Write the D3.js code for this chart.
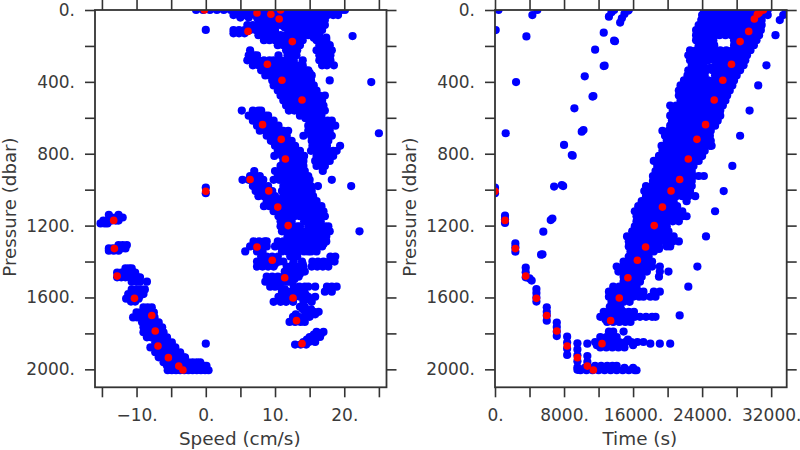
<!DOCTYPE html>
<html><head><meta charset="utf-8">
<script src="https://cdn.jsdelivr.net/npm/d3@7"></script>
<style>html,body{margin:0;background:#fff}svg{display:block}text{font-family:"DejaVu Sans",sans-serif;fill:#3a3a3a}</style>
</head><body><svg id="c" width="800" height="450"></svg>
<script>
// Each row: pressure, then the speeds read at that pressure
const speedUpper = [
[0,-1.4,-.4,.6,1.6,2.6,3.6,4.4,5.2,6,6.8,7.6,8.4,9.2,10,10.8,11.6,12.4,13.2,14,14.8,15.6,16.4,17.2,18,18.8,19.6,20.1],
[28,4,4.8,5.6,6.4,7.2,8,8.8,9.6,10.4,11.2,12,12.8,13.6,14.4,15.2,16,16.8,17.6,18.4,19.1],
[56,7.6,8.4,9.2,10,10.8,11.6,12.4,13.2,14,14.8,15.6,16.4,17.2],
[84,6,6.8,7.6,8.4,9.2,10,10.8,11.6,12.4,13.2,14,14.8,15.6,16.4,17.2],
[112,4,4.8,5.6,6.4,7.2,8,8.8,9.6,10,12.4,13,13.6,14.4,15.2,16,16.8],
[130,4,4.8,5.6],
[140,7.6,8.4,9.2,10,10.8,11.6,12.4,13.2,14,14.8,15.6,16.4],
[168,8.4,9.2,10,10.8,11.6,12.4,13.2,14,16,16.8,17.4],
[196,10.4,11.2,12,12.8,13.6,16.4,17.2,17.9],
[224,6.4,11.6,12.4,13.2,16,16.8,17.6,18.2],
[252,6.2,7,7.4,10.5,11.8,12.6,13.1,16.4,17.2,18],
[280,6,6.8,7.6,8.4,9.2,9.8,10.8,11.6,12.4,12.7,14,16.4,17.2,18],
[308,6.8,7.6,8.4,9.2,10,10.8,11.6,12.4,13.2,14,16.8,17.5,18.5],
[336,8,8.8,9.6,10.4,11.2,12,12.8,13.6,14.4,14.8],
[364,8.6,9.2,10,10.8,11.6,12.4,13.2,14,14.8,15.3],
[392,9.6,10.4,11.2,12,12.8,13.6,14.4,15.2,17.9],
[420,9.8,10.8,11.6,12.4,13.2,14,14.8,15.6],
[448,10.4,11.2,12,12.8,13.6,14.4,15.2,16],
[476,10.8,11.6,12.4,13.2,14,14.8,15.6,16.4,17.2],
[504,11.2,12,12.8,13.6,14.4,15.2,16,16.8],
[532,11.6,12.4,13.2,14,14.8,15.6,16.4,17],
[560,5.2,6.8,7.6,8,12,12.8,13.6,14.4,15.2,16,16.8,17.2],
[588,6.2,7,7.8,8.6,9,13.6,14.4,15.2,16,16.7],
[616,6.8,7.6,8.4,9.2,9.8,15.2,16,16.8,17.6,18.2],
[644,7.4,8.2,9,9.8,10.5,14.8,15.6,16.4,17.2,18,18.7],
[672,7.8,8.6,9.4,10.2,11,11.2,11.9,14.8,15.6,16.4,17.2,17.9],
[700,8.8,9.6,10.4,11.2,11.7,14.1,15.2,16,16.8,17.6,18.2],
[728,9.4,10.2,11,11.8,12.4,15.3,16.1,16.9,17.7],
[756,10,10.8,11.6,12.4,12.9,15.4,16.2,17,17.5,19.4],
[784,10.4,11.2,12,12.8,13.6,15.2,16,16.8,17.6,18.4,18.9],
[812,9.9,11,11.8,12.6,13.4,14.2,16,16.8,17.6,18.4],
[840,11.2,12,12.8,13.6,14.1,15.8,16.6,17.4,17.9],
[868,10.8,11.6,12.4,13.2,14.1,16,16.8,17.2],
[896,7,10,10.8,11.6,12.4,13.2,14,14.3,16.9],
[924,6.4,7.2,7.8,10.4,11.2,12,12.8,13.6,14.4,14.8],
[945,5.3,6.2,7,7.8,8.3,9.8,10.6,11.4,12.2,13,13.8,14.6,15,18.2],
[980,6.8,7.6,8.4,9,11.2,12,12.8,13.6,14.4,15.2,16.2,21],
[1008,7.2,8,8.8,9.6,11,11.8,12.6,13.4,14.2,15,15.3],
[1036,7.6,8.4,9.2,10,11.2,12,12.8,13.6,14.4,14.8,15.5]];
const speedMiddle = [
[1064,8.8,9.6,10.4,11.2,11.7,12.4,13.2,14,14.8,15.6,16],
[1092,8.4,9.2,10,10.8,11.6,12.2,12.9,13.7,14.5,15.3,16.1,16.7],
[1120,9.8,10.6,11.4,12.2,13,13.8,14.6,15.4,16.2,17],
[1148,10.5,11.2,12,12.8,13.6,14.4,15.2,16,16.8,17.2],
[1176,10.8,11.6,12.4,14.2,15,15.8,16.6],
[1204,10.8,11.6,12.4,13.2,13.6,14.8,15.6,16.4,17.2,17.7],
[1232,11,11.8,12.6,13.2,14,14.8,15.6,16.4,17.2,17.9,22.2],
[1260,11.8,12.6,13.4,14.2,15,15.8,16.6,17.4],
[1288,6.9,7.7,8.5,8.8,10.4,11.2,12,12.8,13.6,14.4,15.2,16,16.8,17.4],
[1316,6.4,7.2,8,8.8,10,10.8,11.6,12.4,13.2,14,14.8,15.3,16,16.8],
[1344,5.7,7.4,8.2,11,11.8,12.6,13.4,14.2,14.8,15.2,16],
[1372,8,8.8,9.6,10.4,12.2,13.2,18,18.7],
[1400,7.4,8.2,9,9.8,10.6,11.2,12.7,13.9,15.4,16.2,17,17.8,18.6],
[1428,7.4,8.2,9,9.8,11.7,12.5,13.3,14.1,15.3,16.1,16.9,17.7],
[1456,11.4,12.2,13,13.8,14.3],
[1484,8.8,9.6,10.4,11.2,12,12.8,13.4],
[1512,8.6,9.4,10.2,11,11.8,12.2],
[1540,9.3,10,10.7,12.7,13.5,14.3,14.8,15.8,17.5,18.2,18.9],
[1568,11,11.8,12.6,13.4,14.1,17.2,18.2],
[1596,10.5,11.3,12.1,12.9,13.6,14.8,15.8],
[1624,9.8,10.8,11.6,12.6,14.1,15.3],
[1652,13.6,14.3],
[1680,14.8,15.6,16.3],
[1708,12.6,13.4,14.2,15],
[1736,12.1,12.9,13.7,14.3],
[1792,16,17],
[1820,15,15.8,16.5],
[1848,14.1,14.9,15.8],
[1862,12.9,13.7,14.5]];
const speedLower = [
[1155,-13.6,-13,-12.4,-12],
[1172,-14.8,-14.2,-13.6,-13,-12.6],
[1188,-15.2,-14.6,-14.2],
[1308,-12.6,-12,-11.4],
[1327,-14,-13.4,-12.8,-12.2,-11.6],
[1340,-14,-13.3,-12.6],
[1438,-11.6,-11.1,-10.7],
[1462,-12.8,-12.2,-11.6,-11,-10.4,-10.2],
[1488,-12.8,-12.2,-11.6,-11,-10.4,-9.8,-9.5],
[1512,-10.7,-10,-9.5,-8.5],
[1555,-10.7,-10,-9.4,-8.8],
[1581,-11.2,-10.6,-10,-9.4,-9],
[1607,-11.5,-10.9,-10.3,-9.7],
[1623,-10.8,-10.2],
[1655,-9,-8.4,-7.8],
[1683,-10,-9.4,-8.8,-8.2,-7.5],
[1711,-10.5,-9.9,-9.3,-8.7,-8.1,-7.4],
[1738,-9.2,-8.6,-8,-7.4,-6.8],
[1766,-9,-8.4,-7.8,-7.2,-6.6,-6.3],
[1794,-9,-8.4,-7.8,-7.2,-6.6,-6.1],
[1822,-8.5,-7.9,-7.3,-6.7,-6.1,-5.6],
[1850,-7.3,-6.7,-6.1,-5.5,-4.9],
[1878,-8,-7.4,-6.8,-6.2,-5.6,-5,-4.4],
[1905,-7.3,-6.7,-6.1,-5.5,-4.9,-4.3,-3.7],
[1933,-6.8,-6.2,-5.6,-5,-4.4,-3.8,-3.2,-3],
[1961,-6.1,-5.5,-4.9,-4.3,-3.7,-3.1,-2.5,-1.9,-1.3,-.8],
[1980,-5.6,-5,-4.4,-3.8,-3.2,-2.6,-2,-1.4,-.8,-.2,.1],
[2005,-5.5,-4.9,-4.3,-3.7,-3.1,-2.5,-1.9,-1.3,-.7,-.1,.4]];
const speedLoose = [[111,0],[145,21.2],[401,23.9],[686,25],[989,0],[1020,0],[1857,0]];
// Extra readings that close small gaps inside the clouds
const speedExtra = [
[42,5,6.2,7.4,9,11,13,15,17],
[98,7,9,11.4,13.4,15.4],
[126,8,10,12,14,16],
[154,9,11,13,15.6,17.4],
[210,12,13,17],
[350,9,11,13,15],
[490,12,14,16],
[602,14.4,16.4],
[1050,9,11,13,15],
[1134,11,13,15,16.6],
[1302,11,13,15,17],
[1414,8,10,12.6,14,16.2],
[1470,11.6,13,13.6],
[1498,9.2,11,12.8],
[1554,11.4,12.8,14.2],
[1582,11.4,12.8,14.4],
[1610,11,12.4,14.6],
[1666,14,15.2],
[1694,13,14.4,15.8],
[1722,12.6,13.8],
[1806,15.6,16.6],
[1834,14.6,15.8],
[1140,-14,-12.6],
[1475,-12.2,-11],
[1594,-10.6,-9.6],
[1992,-5,-3.5,-2,-.5],
[1865,-6.4,-5.2]];

// Each row: pressure, then the times (thousands of seconds) read at that pressure
const timeUpper = [
[0,.4,4.9,13.8,15.5,24.2,24.9,25.6,26.3,27,27.7,28.4,29.1,29.8,30.5,31.2,31.6,33.7],
[28,24,24.6,25.3,26,26.7,27.4,28.1,28.8,29.5,30.2,30.9,31.6,4.33,33.4],
[56,23.9,24.6,25.3,26,26.7,27.4,28.1,28.8,29.5,30.2,30.9,33],
[84,23.6,24.2,24.9,25.6,26.3,27,27.7,28.4,29.1,29.8,30.5,30.9],
[112,23.3,24,24.7,25.4,26.1,26.8,27.5,28.2,28.9,29.6,30.3,30.8,.08],
[140,23.3,23.9,24.6,25.3,26,26.7,27.4,28.1,28.8,29.5,30.2,30.6,32.5],
[168,23.3,24,24.7,25.3,27.7,28.4,29.1,29.8,30.3],
[196,23.6,24.2,24.9,25.4,27.7,28.3,29,29.7,30],
[224,22.6,23.3,24,24.7,25.4,26.1,26.8,27.5,28.2,28.9,29.6],
[252,22.4,23,23.7,24.4,25.1,25.8,26.5,27.2,27.9,28.6,29.2],
[280,22.6,23.3,24,24.7,25.4,26.1,26.8,27.5,28.2,29],
[308,22.8,23.5,24.2,25.7,26.4,27.1,27.8,28.5,28.8,31.45],
[336,22.4,23.1,23.8,24.5,25.2,25.9,26.6,27.3,28,28.4],
[364,22.3,23,23.7,24.3,25.5,26.2,26.9,27.6,28],
[392,21.9,22.6,23.3,24,24.7,25.4,26.1,26.8,27.5,27.7],
[420,21.5,22.2,22.9,23.6,24.3,25,25.7,26.4,27.1,27.5,30.5],
[448,21.3,21.9,22.6,23.3,24,24.7,25.4,26.1,26.8,27.2],
[476,21.3,22,22.7,23.4,24.1,24.8,25.5,26.2,26.9],
[504,21.5,22.1,22.8,23.5,24.2,24.9,25.6,26.3,26.7],
[532,20.3,21,21.7,22.4,23.1,23.8,24.5,25.2,25.9,26.4],
[560,20.6,21.3,22,22.7,23.4,24.1,24.8,25.5,26.1,29.5],
[588,20.3,21,21.7,22.4,23.1,23.8,24.5,25.2,25.9,26.1],
[616,20.5,21.2,21.9,22.6,23.3,24,24.7,25.4,25.8],
[644,20.3,21,21.7,22.4,23.1,23.8,24.5,25.2,25.5],
[672,19.4,20.1,20.8,21.5,22.2,22.9,23.6,24.3,25],
[700,19.7,20.4,21.1,21.8,22.5,23.2,23.9,24.6,24.9,28.4],
[728,19.9,20.6,21.3,22,22.7,23.4,24.1,24.8,25],
[756,19.3,20,20.7,21.4,22.1,22.8,23.5,24.2,24.9,25.1],
[784,19.4,20.1,20.8,21.5,22.2,22.9,23.6,24.3],
[812,19,19.7,20.4,21.1,21.8,22.5,23.2,23.9,24],
[840,18.4,19.1,19.8,20.5,21.2,21.9,22.6,23.3,23.6],
[868,18.8,19.5,20.2,20.9,21.6,22.3,23,27.5],
[896,18.6,19.3,20,20.7,21.4,22.1,22.8],
[924,18.3,19,19.7,20.4,21.1,21.8,22.5,23,23.6,24.2],
[952,18.3,19,19.7,20.4,21.1,21.8,22.5,22.8],
[980,17.5,18.2,18.9,19.6,20.3,21,21.7,22.4,22.8],
[1008,17.3,18,18.7,19.4,20.1,20.8,21.5,22.2,22.6,26.5],
[1036,17.5,18.2,18.9,19.6,20.3,21,21.7,22.4,23.2]];
const timeMiddle = [
[1064,17,17.7,18.4,19.1,19.8,20.5,20.7,22.2],
[1092,16.6,17.3,18,18.7,19.4,20.1,20.8,21.1],
[1120,16.2,16.9,17.6,18.3,19,19.7,20.4,21.1,21.7,25.5],
[1148,16.4,17.1,17.8,18.5,19.2,19.9,20.6,21.3,21.7,22.2],
[1176,16.4,17.1,17.8,18.5,19.2,19.9,20.6,21.3],
[1204,16.2,16.9,17.6,18.3,19,19.7,19.9],
[1232,15.9,16.6,17.3,18,18.7,19.4,20.1],
[1260,15.3,16,16.7,17.4,18.1,18.8,19.5,20.2,20.7,24.45],
[1288,15.5,16.2,16.9,17.6,18.3,19,19.7,19.9,20.6,21.3],
[1316,15.5,16.2,16.9,17.6,18.3,19,19.9,20.3],
[1344,15.7,16.4,17.1,17.8,18.4],
[1372,15.5,16.2,16.9,17.6,17.8],
[1400,14.9,15.6,16.3,17,17.7,18.2],
[1428,14.1,14.8,15.5,16.2,16.9,17.6,18.2,19.1,23.45],
[1456,14.3,15,15.7,16.4,17.1,17.6,19.1,20.1],
[1484,14.9,15.6,16.3,17,19],
[1512,14.9,15.6,16.3,16.8],
[1540,13.7,14.4,15.1,15.8,16.4,22.4],
[1568,13.2,13.9,14.6,15.3,16,16.7,17.2,18.4,19.1],
[1596,13.2,13.9,14.6,15.3,16,16.7,17.2,18,18.6],
[1624,13.5,14.2,14.9,15.6],
[1652,13.3,14,14.5],
[1680,12.6,13.3,14.1,14.9,15.5,16.1],
[1700,21.4],
[1708,12.2,12.9,13.6,14.3,15,15.7,16.2,16.8,17.5,18.2,18.6],
[1736,13,13.7,14.4,15.1,15.7],
[1790,13.2,13.7,14.9],
[1820,12.2,12.9,13.6,14.1],
[1848,11.6,12.3,13,13.7,14.4,15.1,15.8,16.5,17.2],
[1857,10.7,18,19.1,20.3],
[1878,12.2,12.9,13.6,14.3,15],
[1980,11.6,12.3,13,13.6,14.1],
[2005,9.9,10.6,11.3,12,12.7,13.4,14.1,14.8,15.5,16.2,16.4]];
const timeColumns = [
[1145,1.16],[1165,1.16],[1185,1.16],
[1299,2.36],[1320,2.36],[1345,2.36],
[1434,3.56],[1460,3.56],[1488,3.56],[1494,4],[1506,4.25],
[1553,4.8],[1575,4.8],[1600,4.8],[1623,4.8],
[1655,6],[1680,6],[1700,6],[1729,6],
[1740,7.16],[1765,7.16],[1790,7.16],[1815,7.16],
[1818,8.36],[1851,8.36],[1885,8.36],[1920,8.36],
[1855,9.55],[1889,9.55],[1922,9.55],[1955,9.55],[1989,9.55],[2003,9.55],
[1926,10.7],[1959,10.7],[1993,10.7]];
const timeLoose = [
[147,3.64],[401,2.44],[686,1.24],[37,13.2],[13,13.5],[70,14.5],[46,14.7],[22,15],[4,15.4],
[126,12.6],[171,13.8],[174,13.9],[221,11.6],[369,10.4],[312,12.6],[310,12.7],[547,9.2],
[479,11.4],[482,11.3],[668,10.25],[677,10.05],[751,8],[811,9],[807,8.9],[983,6.85],[974,7.74],[980,7.9],
[1161,6.65],[1169,6.46],[1234,5.6],[1360,5.5],[1362,5.34],[989,0],[1020,0]];
// Extra readings that close small gaps inside the band
const timeExtra = [
[14,25,27,29,31],
[98,24,26,28,30],
[320,23,25,26.4,28],
[1330,16,17.5,19],
[1582,13.6,15,16.4],
[1722,12.8,14,15.4],
[1834,12.6,14,15.4],
[1866,11.8,13.4,14.8,16],
[1992,10.4,11.4,12.6,13.8,15,16],
[1610,13.8,15.2],
[1666,13.6,14.6]];

// Red casts: the same samples in both panels
const castPressure = [0,0,17,24,50,119,176,302,391,501,638,720,829,943,1007,1009,1097,1200,1319,1393,1490,1603,1729,1857,1171,1328,1481,1605,1700,1787,1870,1935,1982,2004];
const castSpeed = [-.2,10.8,7.4,9.4,10.6,6.1,12.5,8.9,11,13.9,8.2,10.9,11.5,6.4,9.1,0,10.4,11.9,7.4,9.6,11.4,12.6,13.1,13.9,-13.3,-13.2,-12.8,-10.3,-7.8,-7.3,-6.9,-5.4,-3.9,-3.3];
const castTime = [31.1,30.95,30.6,30.4,30.05,29.4,28.4,27.4,26.4,25.4,24.4,23.4,22.4,21.4,20.4,0,19.4,18.45,17.45,16.5,15.4,14.4,13.4,12.4,1.16,2.36,3.56,4.8,6,7.16,8.36,9.55,10.7,11.4];

const speedTicks = [-15,-10,-5,0,5,10,15,20,25];
const speedLabels = [-10,0,10,20];
const timeTicks = [0,4000,8000,12000,16000,20000,24000,28000,32000];
const timeLabels = [0,8000,16000,24000,32000];
const pressureTicks = [0,200,400,600,800,1000,1200,1400,1600,1800,2000];
const pressureLabels = [0,400,800,1200,1600,2000];

const expand = rows => rows.flatMap(([p,...vs]) => vs.map(v => [v,p]));
const speedPoints = expand([...speedUpper,...speedMiddle,...speedLower,...speedLoose,...speedExtra]);
const timePoints = expand([...timeUpper,...timeMiddle,...timeColumns,...timeLoose,...timeExtra]).map(([t,p]) => [t*1000,p]);
const speedCast = castPressure.map((p,i) => [castSpeed[i],p]);
const timeCast = castPressure.map((p,i) => [castTime[i]*1000,p]);

const svg = d3.select("#c");
const y = d3.scaleLinear().domain([0,2100]).range([10,387.3]);
const fmt = labels => d => labels.includes(d) ? String(d).replace("-","\u2212")+"." : "";

function panel(id,x0,x1,domain,xTicks,xLabels,title,blue,red,yTitleX){
  const x = d3.scaleLinear().domain(domain).range([x0,x1]);
  const [yT,yB] = y.range();
  const g = svg.append("g");
  g.append("clipPath").attr("id",id).append("rect").attr("x",x0).attr("y",yT).attr("width",x1-x0).attr("height",yB-yT);
  const pts = g.append("g").attr("clip-path",`url(#${id})`);
  pts.selectAll("circle.b").data(blue).join("circle").attr("class","b")
    .attr("cx",d=>x(d[0])).attr("cy",d=>y(d[1])).attr("r",4.1).attr("fill","#0000ff");
  pts.selectAll("circle.r").data(red).join("circle").attr("class","r")
    .attr("cx",d=>x(d[0])).attr("cy",d=>y(d[1])).attr("r",3.8).attr("fill","#ff0000");
  const style = a => { a.select(".domain").remove();
    a.selectAll("line").attr("stroke","#333").attr("stroke-width",1.6);
    a.selectAll("text").attr("font-size",17).attr("fill","#3a3a3a"); return a; };
  style(g.append("g").attr("transform",`translate(0,${yB})`)
    .call(d3.axisBottom(x).tickValues(xTicks).tickSize(10).tickPadding(12).tickFormat(fmt(xLabels))));
  style(g.append("g").attr("transform",`translate(0,${yT})`)
    .call(d3.axisTop(x).tickValues(xTicks).tickSize(10).tickFormat("")));
  style(g.append("g").attr("transform",`translate(${x0},0)`)
    .call(d3.axisLeft(y).tickValues(pressureTicks).tickSize(10).tickPadding(10).tickFormat(fmt(pressureLabels))));
  style(g.append("g").attr("transform",`translate(${x1},0)`)
    .call(d3.axisRight(y).tickValues(pressureTicks).tickSize(10).tickFormat("")));
  g.append("rect").attr("x",x0).attr("y",yT).attr("width",x1-x0).attr("height",yB-yT)
    .attr("fill","none").attr("stroke","#333").attr("stroke-width",1.8);
  g.append("text").attr("x",(x0+x1)/2-1).attr("y",445).attr("text-anchor","middle").attr("font-size",18.4).text(title);
  g.append("text").attr("transform",`translate(${yTitleX},207) rotate(-90)`).attr("text-anchor","middle").attr("font-size",18.2).text("Pressure (dbar)");
}
panel("clipA",95,386.5,[-16,26.1],speedTicks,speedLabels,"Speed (cm/s)",speedPoints,speedCast,16);
panel("clipB",495,786.7,[0,33800],timeTicks,timeLabels,"Time (s)",timePoints,timeCast,416);
</script></body></html>
